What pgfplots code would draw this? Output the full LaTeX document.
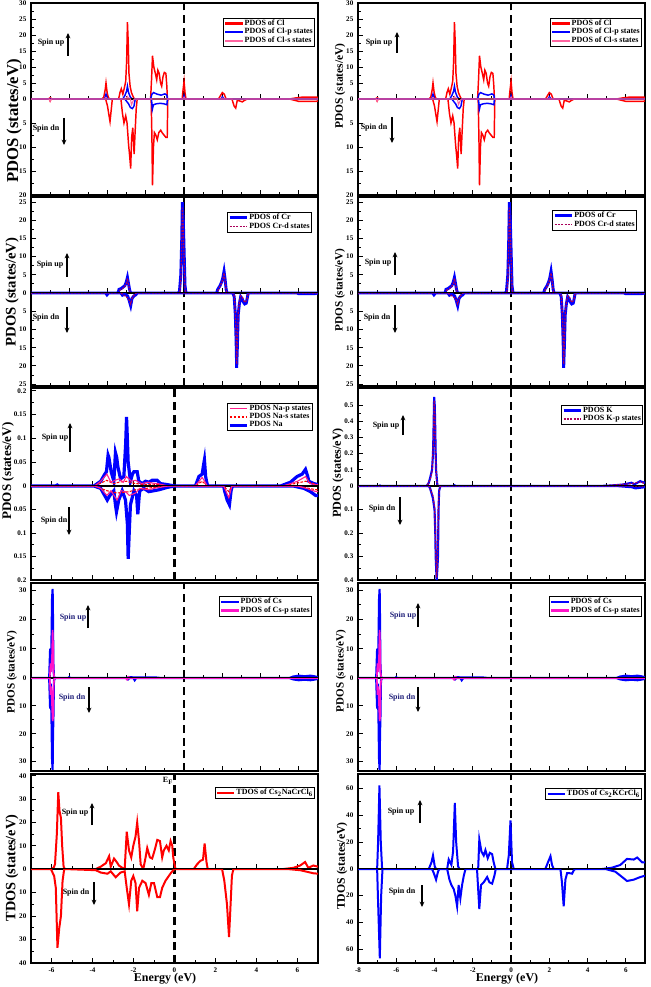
\documentclass[border=0pt]{standalone}
\usepackage{fontspec}
\setmainfont{Liberation Serif}
\usepackage{pgfplots}
\pgfplotsset{compat=1.18}
\usepackage{pgfplotstable}
\usetikzlibrary{arrows.meta}

\definecolor{pinkS}{RGB}{255,100,160}
\definecolor{maroonD}{RGB}{170,0,90}
\definecolor{pinkP}{RGB}{255,30,140}
\definecolor{magP}{RGB}{255,20,200}
\definecolor{navyT}{RGB}{30,30,120}
\definecolor{clR}{RGB}{255,0,0}

% ---------------- data ----------------
\pgfplotstableread[row sep=\\]{x y\\-8 0\\-7.1 0\\-7.0 0.4\\-6.9 0\\-4.3 0\\-4.2 0.5\\-4.12 3\\-4.08 5\\-4.02 2\\-3.95 0.3\\-3.85 0\\-3.42 0\\-3.35 2\\-3.28 3.2\\-3.2 1.5\\-3.12 3.5\\-3.05 5.5\\-3.0 12\\-2.96 24\\-2.92 18\\-2.88 8\\-2.82 4\\-2.75 2\\-2.68 1\\-2.6 0\\-1.75 0\\-1.7 6\\-1.65 13.5\\-1.58 10\\-1.5 8\\-1.43 6\\-1.37 9\\-1.3 8\\-1.23 5\\-1.17 4\\-1.1 7\\-1.03 8.3\\-0.95 8\\-0.9 4\\-0.87 0\\-0.1 0\\-0.05 3\\0 5.5\\0.05 2\\0.1 0\\1.8 0\\1.9 1\\2.0 2\\2.1 1.5\\2.2 0\\5.5 0\\5.8 0.3\\6.2 0.6\\6.9 0.6\\7 0.5\\}\clup
\pgfplotstableread[row sep=\\]{x y\\-8 0\\-7.05 0\\-7.0 -0.4\\-6.95 0\\-4.1 0\\-4.0 -1.5\\-3.92 -3.5\\-3.87 -4.7\\-3.8 -2\\-3.75 0\\-3.3 0\\-3.22 -3\\-3.14 -5\\-3.05 -3.5\\-2.98 -5\\-2.9 -9.5\\-2.84 -12\\-2.79 -14.5\\-2.74 -8\\-2.68 -6\\-2.61 -11.5\\-2.56 -7\\-2.5 -2\\-2.45 0\\-1.72 0\\-1.68 -8\\-1.65 -18\\-1.6 -10\\-1.55 -7\\-1.48 -7.5\\-1.4 -8.5\\-1.32 -7\\-1.22 -6.5\\-1.15 -7\\-1.05 -7.5\\-0.95 -8\\-0.88 -8\\-0.85 0\\2.5 0\\2.62 -1.5\\2.7 -1.9\\2.78 -0.3\\2.9 -0.4\\3.05 -0.6\\3.15 -0.3\\3.3 0\\5.5 0\\6 -0.5\\6.9 -0.5\\7 -0.4\\}\cldn
\pgfplotstableread[row sep=\\]{x y\\-8 0\\-4.15 0\\-4.08 1.5\\-4.0 0\\-3.2 0\\-3.1 1\\-3.0 2.5\\-2.96 4\\-2.9 2\\-2.8 0.5\\-2.7 0\\-1.75 0\\-1.68 1.5\\-1.6 2\\-1.4 1.5\\-1.2 1.2\\-1.0 1.6\\-0.9 1.2\\-0.87 0\\-0.05 0\\0 1\\0.05 0\\1.95 0\\2.0 0.7\\2.1 0\\7 0\\}\clpup
\pgfplotstableread[row sep=\\]{x y\\-8 0\\-3.1 0\\-3.0 -0.5\\-2.9 -1\\-2.8 -1.8\\-2.7 -2\\-2.62 -1.5\\-2.55 0\\-1.7 0\\-1.66 -2.2\\-1.6 -1.2\\-1.45 -1\\-1.25 -0.9\\-1.05 -1\\-0.9 -1.2\\-0.87 0\\7 0\\}\clpdn
\pgfplotstableread[row sep=\\]{x y\\-8 0\\-7.05 0\\-7 0.3\\-6.95 0\\-4.15 0\\-4.08 0.5\\-4.0 0\\-3.05 0\\-2.96 0.8\\-2.88 0\\-0.05 0\\0 0.6\\0.05 0\\1.95 0\\2.0 0.3\\2.1 0\\7 0\\}\clsup
\pgfplotstableread[row sep=\\]{x y\\-8 0\\-7.05 0\\-7 -0.5\\-6.95 0\\-2.8 0\\-2.75 -1.2\\-2.65 -0.3\\-2.6 0\\7 0\\}\clsdn

\pgfplotstableread[row sep=\\]{x y\\-8 0\\-3.45 0\\-3.4 1\\-3.3 1.2\\-3.22 1.5\\-3.1 2\\-3.02 3\\-2.96 4.3\\-2.9 2.5\\-2.85 1\\-2.8 0\\-0.3 0\\-0.24 0.5\\-0.17 5\\-0.12 15\\-0.09 25\\-0.04 20\\0 12\\0.05 2\\0.1 0\\1.7 0\\1.76 1\\1.88 2\\1.96 3\\2.02 4\\2.09 6\\2.14 4\\2.2 1\\2.25 0\\7 0\\}\crup
\pgfplotstableread[row sep=\\]{x y\\-8 0\\-4.1 0\\-4.03 -0.5\\-3.95 0\\-3.3 0\\-3.22 -0.6\\-3.1 -0.3\\-2.95 -0.8\\-2.87 -2\\-2.79 -3.5\\-2.72 -1.5\\-2.62 -0.8\\-2.52 -0.5\\-2.45 0\\2.55 0\\2.62 -1\\2.68 -6\\2.72 -13\\2.75 -20.5\\2.79 -14\\2.83 -6\\2.89 -3\\2.96 -1\\3.03 -1.5\\3.1 -2.5\\3.17 -3\\3.25 -2.8\\3.3 -1.5\\3.35 0\\5.9 0\\6.0 -0.2\\6.8 -0.2\\7 0\\}\crdn
\pgfplotstableread[row sep=\\]{x y\\-8 0\\-3.42 0\\-3.35 0.8\\-3.22 1.2\\-3.1 1.8\\-3.0 2.8\\-2.96 4\\-2.9 2.2\\-2.85 0.8\\-2.8 0\\-0.28 0\\-0.22 0.4\\-0.16 4.5\\-0.12 14\\-0.09 23.5\\-0.04 18\\0 10\\0.05 1.5\\0.1 0\\1.72 0\\1.78 0.8\\1.88 1.8\\1.96 2.8\\2.02 3.6\\2.09 5.5\\2.14 3.5\\2.2 0.8\\2.25 0\\7 0\\}\crdup
\pgfplotstableread[row sep=\\]{x y\\-8 0\\-3.3 0\\-2.9 -1.5\\-2.79 -3\\-2.7 -1.2\\-2.6 -0.5\\-2.5 0\\2.58 0\\2.63 -1\\2.68 -5.5\\2.72 -12\\2.75 -19.5\\2.79 -13\\2.83 -5.5\\2.89 -2.5\\2.96 -0.8\\3.05 -1.2\\3.17 -2.6\\3.28 -2\\3.35 0\\7 0\\}\crddn

\pgfplotstableread[row sep=\\]{x y\\-7 0\\-5.8 0\\-5.72 0.002\\-5.65 0\\-3.93 0\\-3.6 0.01\\-3.4 0.025\\-3.32 0.03\\-3.24 0.065\\-3.2 0.06\\-3.09 0.03\\-2.96 0.01\\-2.88 0.07\\-2.82 0.06\\-2.76 0.04\\-2.63 0.015\\-2.47 0.02\\-2.38 0.09\\-2.34 0.145\\-2.3 0.1\\-2.26 0.05\\-2.15 0.01\\-2.05 0.025\\-1.98 0.03\\-1.82 0.03\\-1.74 0.01\\-1.58 0.005\\-1.41 0.01\\-1.25 0.008\\-1.09 0.012\\-0.85 0.012\\-0.68 0.005\\-0.36 0.003\\0 0\\1.02 0\\1.19 0.02\\1.35 0.025\\1.42 0.045\\1.46 0.055\\1.52 0.02\\1.56 0.01\\1.62 0\\5.17 0\\5.66 0.008\\5.98 0.02\\6.23 0.025\\6.39 0.035\\6.5 0.02\\6.55 0.01\\6.8 0.005\\7 0.003\\}\naup
\pgfplotstableread[row sep=\\]{x y\\-7 0\\-3.93 0\\-3.6 -0.005\\-3.28 -0.03\\-3.15 -0.02\\-2.96 -0.01\\-2.88 -0.04\\-2.83 -0.055\\-2.72 -0.03\\-2.55 -0.01\\-2.39 -0.03\\-2.3 -0.08\\-2.26 -0.155\\-2.2 -0.09\\-2.15 -0.04\\-1.98 -0.01\\-1.85 -0.02\\-1.79 -0.06\\-1.72 -0.02\\-1.69 -0.01\\-1.5 -0.005\\-1.25 -0.012\\-1.0 -0.01\\-0.76 -0.008\\-0.36 -0.003\\0 0\\2.4 0\\2.44 -0.01\\2.57 -0.03\\2.68 -0.04\\2.76 -0.01\\2.82 0\\5.8 0\\6.31 -0.005\\6.63 -0.012\\6.88 -0.02\\7 -0.02\\}\nadn
\pgfplotstableread[row sep=\\]{x y\\-7 0\\-3.9 0\\-3.6 0.01\\-3.3 0.025\\-3.1 0.008\\-2.9 0.012\\-2.7 0.015\\-2.5 0.008\\-2.35 0.02\\-2.1 0.01\\-1.9 0.012\\-1.6 0.005\\-1.3 0.008\\-1.05 0.006\\-0.8 0.005\\-0.3 0\\1.0 0\\1.2 0.01\\1.35 0.018\\1.5 0.008\\1.6 0\\5.3 0\\6.0 0.01\\6.4 0.02\\6.6 0.005\\7 0.002\\}\napup
\pgfplotstableread[row sep=\\]{x y\\-7 0\\-3.9 0\\-3.6 -0.005\\-3.3 -0.02\\-3.1 -0.01\\-2.8 -0.03\\-2.6 -0.01\\-2.4 -0.012\\-2.2 -0.02\\-1.9 -0.015\\-1.7 -0.005\\-1.25 -0.008\\-0.9 -0.004\\-0.3 0\\2.4 0\\2.55 -0.015\\2.65 -0.025\\2.8 0\\6.0 0\\6.5 -0.006\\6.9 -0.012\\7 -0.012\\}\napdn
\pgfplotstableread[row sep=\\]{x y\\-7 0\\-3.9 0\\-3.3 0.012\\-3.0 0.005\\-2.7 0.008\\-2.35 0.01\\-2.0 0.006\\-1.5 0.003\\-1.0 0.004\\-0.3 0\\1.0 0\\1.35 0.01\\1.6 0\\5.3 0\\6.4 0.01\\7 0.002\\}\nasup
\pgfplotstableread[row sep=\\]{x y\\-7 0\\-3.9 0\\-3.3 -0.01\\-2.8 -0.015\\-2.2 -0.012\\-1.9 -0.008\\-1.2 -0.004\\-0.3 0\\2.4 0\\2.65 -0.012\\2.8 0\\6 0\\6.9 -0.008\\7 -0.008\\}\nasdn

\pgfplotstableread[row sep=\\]{x y\\-8 0\\-6.9 0\\-6.85 0.003\\-6.8 0\\-4.41 0\\-4.3 0.02\\-4.23 0.05\\-4.13 0.1\\-4.08 0.2\\-4.06 0.3\\-4.02 0.55\\-3.99 0.5\\-3.97 0.4\\-3.94 0.2\\-3.92 0.1\\-3.85 0\\-3.0 0\\-2.95 0.004\\-2.9 0\\4.6 0\\5.2 0.003\\5.8 0.008\\6.1 0.015\\6.3 0.02\\6.45 0.01\\6.6 0.02\\6.75 0.03\\6.85 0.025\\7 0.02\\}\kup
\pgfplotstableread[row sep=\\]{x y\\-8 0\\-4.3 0\\-4.23 -0.01\\-4.09 -0.05\\-4.0 -0.1\\-3.96 -0.2\\-3.94 -0.3\\-3.89 -0.4\\-3.85 -0.35\\-3.82 -0.3\\-3.79 -0.1\\-3.76 -0.02\\-3.7 0\\5.5 0\\6.3 -0.005\\6.5 -0.01\\7 -0.005\\}\kdn
\pgfplotstableread[row sep=\\]{x y\\-8 0\\-4.4 0\\-4.23 0.04\\-4.13 0.09\\-4.06 0.28\\-4.02 0.53\\-3.98 0.45\\-3.94 0.18\\-3.9 0.05\\-3.85 0\\4.6 0\\6.3 0.015\\6.75 0.025\\7 0.015\\}\kpup
\pgfplotstableread[row sep=\\]{x y\\-8 0\\-4.3 0\\-4.09 -0.04\\-4.0 -0.09\\-3.94 -0.28\\-3.89 -0.39\\-3.85 -0.33\\-3.8 -0.1\\-3.75 -0.02\\-3.7 0\\7 0\\}\kpdn

\pgfplotstableread[row sep=\\]{x y\\-8 0\\-7.05 0\\-7.0 10\\-6.97 3\\-6.93 12\\-6.9 27\\-6.87 30.5\\-6.85 20\\-6.83 5\\-6.8 0.5\\-6.75 0\\-6.05 0\\-6.0 0.3\\-5.95 0\\-2.95 0\\-2.9 0.3\\-2.6 0.2\\-1.8 0.2\\-1.5 0.2\\-1.2 0\\5.5 0\\5.7 0.5\\6.0 0.8\\6.3 0.6\\6.6 0.8\\6.8 0.6\\7 0.3\\}\csup
\pgfplotstableread[row sep=\\]{x y\\-8 0\\-7.05 0\\-7.0 -11\\-6.97 -2\\-6.93 -14\\-6.9 -29\\-6.87 -33\\-6.85 -20\\-6.83 -15\\-6.8 -1\\-6.75 0\\-3.0 0\\-2.93 -0.5\\-2.85 0\\-2.65 0\\-2.58 -0.8\\-2.5 0\\5.5 0\\5.7 -0.5\\6.0 -0.8\\6.3 -0.6\\6.6 -0.8\\6.8 -0.6\\7 -0.3\\}\csdn
\pgfplotstableread[row sep=\\]{x y\\-8 0\\-7.02 0\\-6.98 5\\-6.94 2\\-6.9 8\\-6.87 16.5\\-6.84 10\\-6.82 2\\-6.78 0\\-2.95 0\\-2.9 0.4\\-2.8 0\\7 0\\}\cspup
\pgfplotstableread[row sep=\\]{x y\\-8 0\\-7.02 0\\-6.98 -6\\-6.94 -3\\-6.9 -10\\-6.87 -15.5\\-6.84 -14\\-6.82 -3\\-6.78 0\\-3.05 0\\-2.98 -0.6\\-2.9 0\\7 0\\}\cspdn

\pgfplotstableread[row sep=\\]{x y\\-7 0\\-6.03 0\\-5.9 0.5\\-5.83 2\\-5.74 15\\-5.67 33\\-5.61 25\\-5.54 22\\-5.48 10\\-5.41 1\\-5.35 0\\-3.84 0\\-3.6 1\\-3.35 2.5\\-3.19 5.5\\-3.11 1\\-2.95 4.5\\-2.82 3\\-2.71 1.5\\-2.54 0.5\\-2.43 0\\-2.33 16\\-2.22 8\\-2.11 5\\-2.01 10\\-1.9 14\\-1.82 20\\-1.73 12\\-1.65 2\\-1.52 0\\-1.41 5\\-1.33 9\\-1.2 5\\-1.09 4.5\\-0.97 8\\-0.84 12.5\\-0.71 12\\-0.6 5\\-0.52 8\\-0.39 10\\-0.28 8\\-0.19 12\\-0.11 10\\-0.06 5\\0 2\\0.05 0\\0.94 0\\1.1 2\\1.26 3.5\\1.39 4\\1.47 11\\1.56 3\\1.62 0\\5.32 0\\5.8 0.5\\6.13 1.5\\6.37 3\\6.53 0.5\\6.77 1.5\\7 1\\}\tna
\pgfplotstableread[row sep=\\]{x y\\-7 0\\-6.03 0\\-5.87 -3\\-5.79 -8\\-5.71 -33.5\\-5.62 -25\\-5.54 -20\\-5.46 -5\\-5.38 0\\-3.84 -0.5\\-3.6 -1.5\\-3.27 -2\\-3.11 -1\\-2.87 -3.5\\-2.63 -1.5\\-2.43 -1\\-2.33 -8\\-2.22 -15\\-2.11 -5\\-2.01 -3\\-1.9 -6\\-1.82 -18\\-1.73 -8\\-1.57 -5\\-1.41 -6\\-1.25 -11\\-1.13 -6\\-1.0 -6\\-0.84 -12\\-0.71 -12\\-0.6 -8\\-0.44 -5\\-0.28 -3\\-0.16 -1.5\\0 0\\2.32 0\\2.43 -5\\2.56 -15\\2.66 -29\\2.72 -18\\2.8 -3\\2.87 0\\5.48 0\\6.13 -0.5\\6.77 -1.8\\7 -2\\}\tnadn
\pgfplotstableread[row sep=\\]{x y\\-8 0\\-7.0 0\\-6.95 20\\-6.88 62\\-6.81 20\\-6.74 0\\-4.3 0\\-4.16 5\\-4.08 10\\-3.99 2\\-3.92 0\\-3.34 0\\-3.26 7\\-3.12 3\\-3.03 13\\-2.94 49\\-2.87 20\\-2.77 2\\-2.7 0\\-1.72 0\\-1.66 22\\-1.55 13\\-1.43 10\\-1.34 14\\-1.22 8\\-1.11 12\\-0.99 11\\-0.91 5\\-0.82 0\\-0.21 0\\-0.12 10\\-0.03 36\\0.05 5\\0.14 0\\1.79 0\\1.93 5\\2.06 9.5\\2.14 3\\2.23 0\\4.76 0\\5.28 1\\5.71 3\\6.06 7.5\\6.41 7\\6.59 8.5\\6.85 5\\7 5\\}\tk
\pgfplotstableread[row sep=\\]{x y\\-8 0\\-7.0 0\\-6.95 -25\\-6.86 -67\\-6.79 -20\\-6.72 0\\-4.13 0\\-4.04 -3\\-3.92 -8\\-3.82 -2\\-3.75 0\\-3.34 0\\-3.22 -8\\-3.12 -12\\-3.0 -15\\-2.91 -20\\-2.82 -28\\-2.74 -12\\-2.65 -22\\-2.56 -12\\-2.47 -5\\-2.38 0\\-1.78 0\\-1.66 -30\\-1.57 -12\\-1.43 -10\\-1.25 -6\\-1.13 -10\\-0.99 -11\\-0.87 -5\\-0.8 0\\2.58 0\\2.66 -10\\2.75 -28\\2.84 -8\\2.93 -3\\3.01 -3\\3.19 -3.5\\3.28 -1\\3.36 0\\4.93 0\\5.45 -2\\5.89 -7\\6.06 -9\\6.41 -8\\6.76 -6\\7 -5\\}\tkdn

% ---------------- styles ----------------
\tikzset{
 zl/.style={black, line width=1.6pt, dash pattern=on 6pt off 3.5pt},
 arr/.style={-{Stealth[length=4pt,width=3.6pt]}, line width=0.8pt},
 sp/.style={font=\fontsize{6}{6}\selectfont\bfseries},
}
\newcommand\zline[1][]{\draw[zl,#1] ({axis cs:0,0}|-{rel axis cs:0,0}) -- ({axis cs:0,0}|-{rel axis cs:0,1});}

\pgfplotsset{
  legend image code/.code={\draw[#1] (0pt,0pt) -- (13pt,0pt);},
  base/.style={scale only axis, width=215.25pt,
    axis line style={line width=1.5pt},
    tick align=inside, xtick pos=bottom, ytick pos=left,
    minor x tick num=1, minor y tick num=1,
    major tick length=4pt, minor tick length=2.2pt,
    tick style={black, line width=0.7pt},
    tick label style={font=\fontsize{5.3}{6}\selectfont\bfseries},
    xticklabels={},
    legend cell align=left,
    legend style={font=\fontsize{6}{6.6}\selectfont\bfseries, draw=black, fill=white,
      inner sep=0.8pt, row sep=-0.5pt, at={(1,1)}, anchor=north east, nodes={inner sep=0.6pt}}},
  X8/.style={xmin=-8, xmax=7, xtick={-8,-6,-4,-2,0,2,4,6}},
  X7/.style={xmin=-7, xmax=7, xtick={-6,-4,-2,0,2,4,6}},
  up/.style={base, anchor=south west, ymin=0},
  dn/.style={base, anchor=north west, ymax=0},
}

\begin{document}
\begin{tikzpicture}
\useasboundingbox (0pt,0pt) rectangle (487.5pt,-740.25pt);

% ================= ROW 1 : Cl =================
\foreach \xo in {23.25pt,268.5pt}{
\begin{axis}[up, X8, at={(\xo,-74.25pt)}, height=72pt, ymax=30,
  ytick={0,5,10,15,20,25,30}, yticklabels={0,5,10,15,20,25,30},
  legend style={xshift=-2.25pt, yshift=-11pt}]
\zline
\addplot[draw=clR, line width=1.1pt, forget plot] table {\clup};
\addplot[draw=blue, line width=1.1pt, forget plot] table {\clpup};
\addplot[draw=pinkS, line width=0.8pt, forget plot] table {\clsup};
\addlegendimage{draw=clR, line width=1.8pt}\addlegendentry{PDOS of Cl}
\addlegendimage{draw=blue, line width=1.8pt}\addlegendentry{PDOS of Cl-p states}
\addlegendimage{draw=pinkS, line width=1.8pt}\addlegendentry{PDOS of Cl-s states}
\end{axis}
\begin{axis}[dn, X8, at={(\xo,-74.25pt)}, height=72pt, ymin=-20,
  ytick={-20,-15,-10,-5}, yticklabels={20,15,10,5}]
\zline
\addplot[draw=clR, line width=1.1pt] table {\cldn};
\addplot[draw=blue, line width=1.1pt] table {\clpdn};
\addplot[draw=pinkS, line width=0.8pt] table {\clsdn};
\end{axis}
}

% ================= ROW 2 : Cr =================
\foreach \xo/\lx/\ly in {23.25pt/-4.5pt/-11.25pt,268.5pt/-6pt/-9.75pt}{
\begin{axis}[up, X8, at={(\xo,-219.75pt)}, height=72pt, ymax=26.4,
  ytick={0,5,10,15,20,25}, yticklabels={0,5,10,15,20,25},
  legend style={xshift=\lx, yshift=\ly}]
\zline[solid, line width=1pt]
\addplot[color=blue, line width=2.2pt, forget plot] table {\crup};
\addplot[color=maroonD, line width=0.9pt, dash pattern=on 1.5pt off 1pt, forget plot] table {\crdup};
\addlegendimage{color=blue, line width=2.2pt}\addlegendentry{PDOS of Cr}
\addlegendimage{color=maroonD, line width=1.4pt, dash pattern=on 1.5pt off 1pt}\addlegendentry{PDOS Cr-d states}
\end{axis}
\begin{axis}[dn, X8, at={(\xo,-219.75pt)}, height=69.75pt, ymin=-25.5,
  ytick={-25,-20,-15,-10,-5}, yticklabels={25,20,15,10,5}]
\zline
\addplot[color=blue, line width=2.2pt] table {\crdn};
\addplot[color=maroonD, line width=0.9pt, dash pattern=on 1.5pt off 1pt] table {\crddn};
\end{axis}
}

% ================= ROW 3 left : Na =================
\begin{axis}[up, X7, at={(23.25pt,-364.5pt)}, height=73.5pt, ymax=0.206,
  ytick={0,0.05,0.1,0.15,0.2}, yticklabels={0,0.05,0.1,0.15,0.2},
  legend style={xshift=-3.75pt, yshift=-11.25pt}]
\zline
\addplot[color=blue, line width=2.4pt, forget plot] table {\naup};
\addplot[color=red, line width=0.8pt, dash pattern=on 2pt off 1pt, forget plot] table {\nasup};
\addplot[color=pinkP, line width=0.8pt, forget plot] table {\napup};
\addlegendimage{color=pinkP, line width=1pt}\addlegendentry{PDOS Na-p states}
\addlegendimage{color=red, line width=1pt, dash pattern=on 2pt off 1pt}\addlegendentry{PDOS Na-s states}
\addlegendimage{color=blue, line width=2.4pt}\addlegendentry{PDOS Na}
\end{axis}
\begin{axis}[dn, X7, at={(23.25pt,-364.5pt)}, height=70.5pt, ymin=-0.2,
  ytick={-0.2,-0.15,-0.1,-0.05}, yticklabels={0.2,0.15,0.1,0.05}]
\zline
\addplot[color=blue, line width=2.4pt] table {\nadn};
\addplot[color=red, line width=0.8pt, dash pattern=on 2pt off 1pt] table {\nasdn};
\addplot[color=pinkP, line width=0.8pt] table {\napdn};
\end{axis}

% ================= ROW 3 right : K =================
\begin{axis}[up, X8, at={(268.5pt,-364.5pt)}, height=73.5pt, ymax=0.605,
  ytick={0,0.1,0.2,0.3,0.4,0.5}, yticklabels={0,0.1,0.2,0.3,0.4,0.5},
  legend style={xshift=-1.5pt, yshift=-12.75pt}]
\zline
\addplot[color=blue, line width=1.6pt, forget plot] table {\kup};
\addplot[color=maroonD, line width=0.9pt, dash pattern=on 1.5pt off 1pt, forget plot] table {\kpup};
\addlegendimage{color=blue, line width=2pt}\addlegendentry{PDOS K}
\addlegendimage{color=maroonD, line width=1.4pt, dash pattern=on 1.5pt off 1pt}\addlegendentry{PDOS K-p states}
\end{axis}
\begin{axis}[dn, X8, at={(268.5pt,-364.5pt)}, height=70.5pt, ymin=-0.4,
  ytick={-0.4,-0.3,-0.2,-0.1}, yticklabels={0.4,0.3,0.2,0.1}]
\zline
\addplot[color=blue, line width=1.6pt] table {\kdn};
\addplot[color=maroonD, line width=0.9pt, dash pattern=on 1.5pt off 1pt] table {\kpdn};
\end{axis}

% ================= ROW 4 : Cs =================
\foreach \xo/\lx in {23.25pt/-4.5pt,268.5pt/-2.25pt}{
\begin{axis}[up, X8, at={(\xo,-508.5pt)}, height=71.25pt, ymax=32.5,
  ytick={0,10,20,30}, yticklabels={0,10,20,30},
  legend style={xshift=\lx, yshift=-9.75pt}]
\zline
\addplot[color=blue, line width=1.6pt, forget plot] table {\csup};
\addplot[color=magP, line width=1.2pt, forget plot] table {\cspup};
\addlegendimage{color=blue, line width=2pt}\addlegendentry{PDOS of Cs}
\addlegendimage{color=magP, line width=2pt}\addlegendentry{PDOS of Cs-p states}
\end{axis}
\begin{axis}[dn, X8, at={(\xo,-508.5pt)}, height=69.75pt, ymin=-33.4,
  ytick={-30,-20,-10}, yticklabels={30,20,10}]
\zline
\addplot[color=blue, line width=1.6pt] table {\csdn};
\addplot[color=magP, line width=1.2pt] table {\cspdn};
\end{axis}
}

% ================= ROW 5 left : TDOS Cs2NaCrCl6 =================
\begin{axis}[up, X7, at={(23.25pt,-651.75pt)}, height=71.25pt, ymax=40.8,
  ytick={0,10,20,30,40}, yticklabels={0,10,20,30,40},
  legend style={xshift=-2.25pt, yshift=-9.75pt}]
\zline
\addplot[color=red, line width=1.5pt, forget plot] table {\tna};
\addlegendimage{color=red, line width=1.8pt}\addlegendentry{TDOS of Cs\textsubscript{2}NaCrCl\textsubscript{6}}
\end{axis}
\begin{axis}[dn, X7, at={(23.25pt,-651.75pt)}, height=70.5pt, ymin=-40,
  ytick={-40,-30,-20,-10}, yticklabels={40,30,20,10},
  xticklabels={-6,-4,-2,0,2,4,6}]
\zline
\addplot[color=red, line width=1.5pt] table {\tnadn};
\end{axis}

% ================= ROW 5 right : TDOS Cs2KCrCl6 =================
\begin{axis}[up, X8, at={(268.5pt,-651.75pt)}, height=71.25pt, ymax=70.4,
  ytick={0,20,40,60}, yticklabels={0,20,40,60},
  legend style={xshift=-2.25pt, yshift=-10.5pt}]
\zline
\addplot[color=blue, line width=1.5pt, forget plot] table {\tk};
\addlegendimage{color=blue, line width=1.8pt}\addlegendentry{TDOS of Cs\textsubscript{2}KCrCl\textsubscript{6}}
\end{axis}
\begin{axis}[dn, X8, at={(268.5pt,-651.75pt)}, height=70.5pt, ymin=-70.5,
  ytick={-60,-40,-20}, yticklabels={60,40,20},
  xticklabels={-8,-6,-4,-2,0,2,4,6}]
\zline
\addplot[color=blue, line width=1.5pt] table {\tkdn};
\end{axis}

% ================= annotations (px coordinates) =================
\begin{scope}[x=0.75pt,y=-0.75pt]
\node[rotate=90, font=\fontsize{12.5}{12.5}\selectfont\bfseries] at (14,121) {PDOS (states/eV)};
\node[rotate=90, font=\fontsize{11}{11}\selectfont\bfseries] at (12,292) {PDOS (states/eV)};
\node[rotate=90, font=\fontsize{9.8}{9.8}\selectfont\bfseries] at (8,471) {PDOS (states/eV)};
\node[rotate=90, font=\fontsize{8.4}{8.4}\selectfont\bfseries] at (12,672) {PDOS (states/eV)};
\node[rotate=90, font=\fontsize{10.7}{10.7}\selectfont\bfseries] at (12,868) {TDOS (states/eV)};
\node[rotate=90, font=\fontsize{8.6}{8.6}\selectfont\bfseries] at (340,86) {PDOS (states/eV)};
\node[rotate=90, font=\fontsize{8.4}{8.4}\selectfont\bfseries] at (340,290) {PDOS (states/eV)};
\node[rotate=90, font=\fontsize{9.1}{9.1}\selectfont\bfseries] at (338,473) {PDOS (states/eV)};
\node[rotate=90, font=\fontsize{8.3}{8.3}\selectfont\bfseries] at (341,671) {PDOS (states/eV)};
\node[rotate=90, font=\fontsize{8.8}{8.8}\selectfont\bfseries] at (342,866) {TDOS (states/eV)};
\node[font=\fontsize{9}{9}\selectfont\bfseries] at (165,979) {Energy (eV)};
\node[font=\fontsize{9}{9}\selectfont\bfseries] at (507,979) {Energy (eV)};
\node[font=\fontsize{6}{6}\selectfont\bfseries] at (168,781) {E\textsubscript{F}};
\node[sp] at (51,43) {Spin up}; \draw[arr] (68,56) -- (68,33);
\node[sp] at (46,129) {Spin dn}; \draw[arr] (64,118) -- (64,145);
\node[sp] at (50,265) {Spin up}; \draw[arr] (67,277) -- (67,253);
\node[sp] at (46,318) {Spin dn}; \draw[arr] (67,307) -- (67,333);
\node[sp] at (55,438) {Spin up}; \draw[arr] (70,452) -- (70,423);
\node[sp] at (54,521) {Spin dn}; \draw[arr] (69,507) -- (69,535);
\node[sp, text=navyT] at (73,618) {Spin up}; \draw[arr] (88,628) -- (88,605);
\node[sp, text=navyT] at (72,698) {Spin dn}; \draw[arr] (89,687) -- (89,713);
\node[sp] at (75,813) {Spin up}; \draw[arr] (92,825) -- (92,803);
\node[sp] at (76,893) {Spin dn}; \draw[arr] (94,882) -- (94,905);
\node[sp] at (379,43) {Spin up}; \draw[arr] (397,53) -- (397,32);
\node[sp] at (374,128) {Spin dn}; \draw[arr] (392,117) -- (392,143);
\node[sp] at (378,263) {Spin up}; \draw[arr] (395,275) -- (395,252);
\node[sp] at (377,318) {Spin dn}; \draw[arr] (395,305) -- (395,333);
\node[sp] at (386,426) {Spin up}; \draw[arr] (403,435) -- (403,415);
\node[sp] at (382,509) {Spin dn}; \draw[arr] (400,497) -- (400,525);
\node[sp, text=navyT] at (403,616) {Spin up}; \draw[arr] (418,627) -- (418,603);
\node[sp, text=navyT] at (402,698) {Spin dn}; \draw[arr] (418,687) -- (418,712);
\node[sp] at (401,812) {Spin up}; \draw[arr] (420,823) -- (420,800);
\node[sp] at (402,892) {Spin dn}; \draw[arr] (422,885) -- (422,907);
\end{scope}
\end{tikzpicture}
\end{document}
